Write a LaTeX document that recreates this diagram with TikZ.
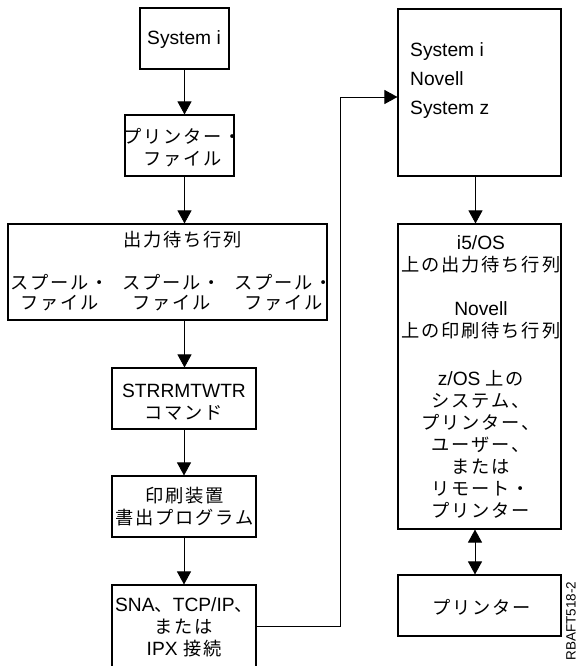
\documentclass[tikz,border=0pt]{standalone}
\usepackage{fontspec}
\setmainfont{Liberation Sans}
\newfontfamily\jpfont{Noto Sans CJK JP}[Scale=0.95]
\def\jspfirst#1{#1\jspnext}
\def\jspnext#1{\ifx#1\relax\else\kern1.8pt#1\expandafter\jspnext\fi}
\newcommand{\jp}[1]{{\jpfont\jspfirst#1\relax}}
\usetikzlibrary{arrows.meta}

\def\thefs{\fontsize{19.2}{22}\selectfont}

\begin{document}
\begin{tikzpicture}[x=1pt,y=-1pt,
    thebox/.style={draw,line width=1.1pt,inner sep=0pt},
    thetext/.style={align=center,inner sep=0pt,font=\thefs},
    thearrow/.style={line width=0.9pt,-{Triangle[width=14pt,length=13pt]}},
    thebiarrow/.style={line width=0.9pt,{Triangle[width=14pt,length=13pt]}-{Triangle[width=14pt,length=13pt]}}
    ]
    \useasboundingbox (0,0) rectangle (580,666);

    \node[thebox,minimum width=89pt,minimum height=61pt] (sysi) at (184.5,38.5) {};
    \node[thetext] (sysi-t) at (184,40) {System i};

    \node[thebox,minimum width=109pt,minimum height=61pt] (pfile) at (179.5,145.5) {};
    \node[thetext] (pfile-t) at (183,148) {\jp{プリンター・}\\\jp{ファイル}};

    \node[thebox,minimum width=319pt,minimum height=96pt] (outq) at (167.5,272) {};
    \node[thetext] (outq-t) at (183,240) {\jp{出力待ち行列}};
    \foreach \cx in {60,172,284} {
      \node[thetext,font=\fontsize{19.2}{20}\selectfont] (spool-\cx) at (\cx,293) {\jp{スプール・}\\\jp{ファイル}};
    }

    \node[thebox,minimum width=144pt,minimum height=61pt] (strr) at (184,398.5) {};
    \node[thetext] (strr-t) at (184,402) {STRRMTWTR\\\jp{コマンド}};

    \node[thebox,minimum width=144pt,minimum height=61pt] (pwtr) at (184,506.5) {};
    \node[thetext] (pwtr-t) at (185,507) {\jp{印刷装置}\\\jp{書出プログラム}};

    \node[thebox,minimum width=144pt,minimum height=83pt] (sna) at (184,626.5) {};
    \node[thetext] (sna-t) at (184,627) {SNA\jp{、}TCP/IP\jp{、}\\\jp{または}\\IPX \jp{接続}};

    \node[thebox,minimum width=163pt,minimum height=167pt] (rsys) at (479.5,92.5) {};
    \node[thetext,align=left,anchor=west] (rsys-t) at (410,81) {System i\\[7pt]Novell\\[7pt]System z};

    \node[thebox,minimum width=163pt,minimum height=305pt] (rque) at (479.5,376.5) {};
    \node[thetext] (rque-t) at (481,377) {i5/OS\\\jp{上の出力待ち行列}\\[22pt]Novell\\\jp{上の印刷待ち行列}\\[26pt]z/OS \jp{上の}\\\jp{システム、}\\\jp{プリンター、}\\\jp{ユーザー、}\\\jp{または}\\\jp{リモート・}\\\jp{プリンター}};

    \node[thebox,minimum width=163pt,minimum height=61pt] (prn) at (479.5,605.5) {};
    \node[thetext] (prn-t) at (482,607) {\jp{プリンター}};

    \node[rotate=90,inner sep=0pt,font=\fontsize{13.5}{13.5}\selectfont] (figid) at (571,621) {RBAFT518-2};

    \draw[thearrow] (sysi.south) -- (sysi.south |- pfile.north);
    \draw[thearrow] (pfile.south -| sysi.south) -- (sysi.south |- outq.north);
    \draw[thearrow] (outq.south -| sysi.south) -- (sysi.south |- strr.north);
    \draw[thearrow] (strr.south) -- (pwtr.north);
    \draw[thearrow] (pwtr.south) -- (sna.north);
    \coordinate (bend) at (340,97);
    \draw[thearrow] (sna.east) -| (bend) -- (rsys.west |- bend);
    \draw[thearrow] ([xshift=-4pt]rsys.south) -- ([xshift=-4pt]rque.north);
    \draw[thebiarrow] ([xshift=-4.5pt]rque.south) -- ([xshift=-4.5pt]prn.north);
\end{tikzpicture}
\end{document}
